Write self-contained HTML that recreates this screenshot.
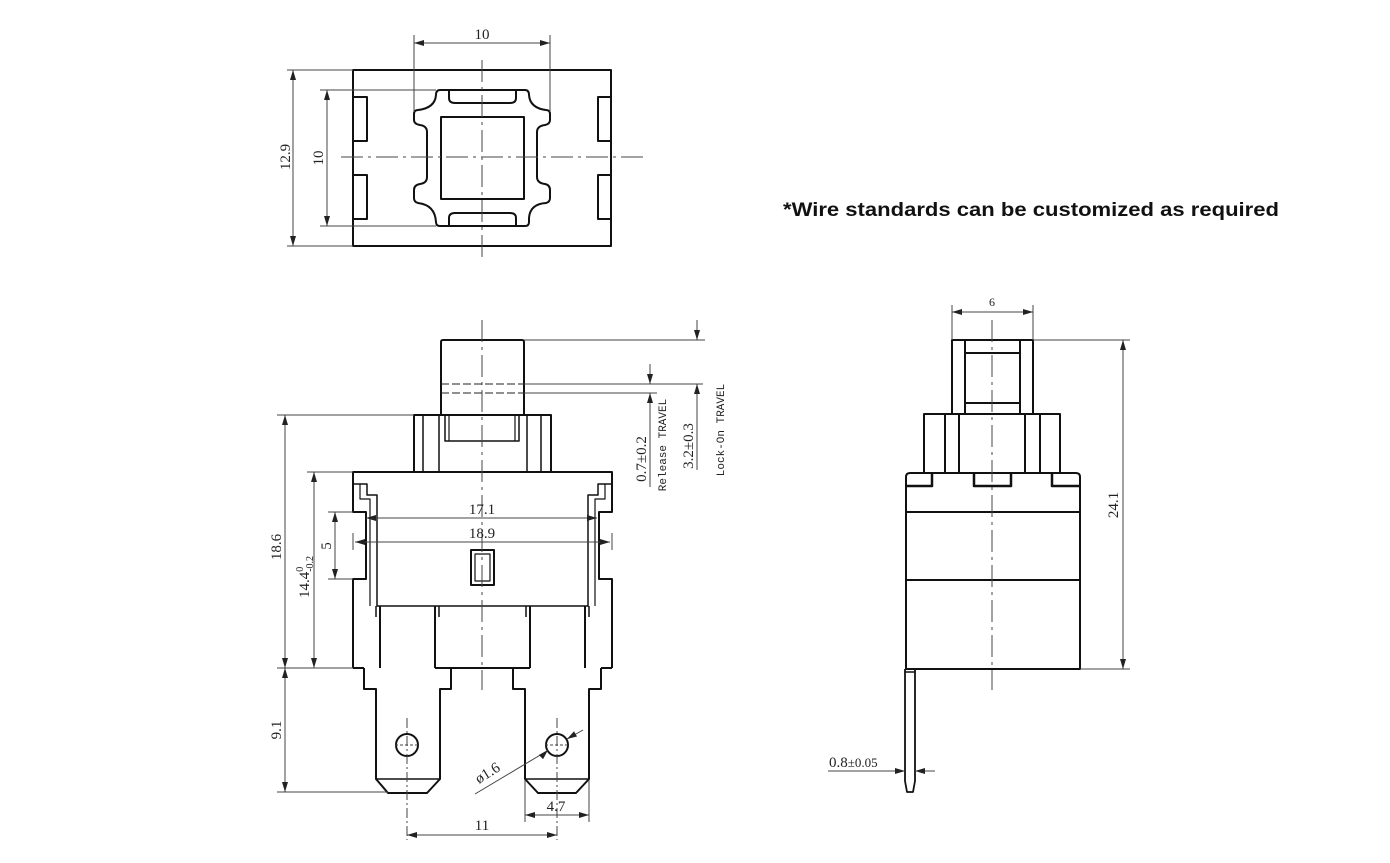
<!DOCTYPE html>
<html><head><meta charset="utf-8"><style>
html,body{margin:0;padding:0;background:#fff;}
svg{display:block}
text{font-family:"Liberation Serif",serif;fill:#222}
</style></head><body>
<svg width="1390" height="863" viewBox="0 0 1390 863" xmlns="http://www.w3.org/2000/svg">
<defs>
<marker id="a" viewBox="0 0 10 6" refX="10" refY="3" markerWidth="10" markerHeight="6" orient="auto-start-reverse" markerUnits="userSpaceOnUse"><path d="M0,0 L10,3 L0,6 z" fill="#222"/></marker>
</defs>
<g fill="none" stroke="#111" stroke-width="2" stroke-linejoin="round">
<rect x="353" y="70" width="258" height="176"/>
<rect x="353" y="97" width="14" height="44"/><rect x="353" y="175" width="14" height="44"/>
<rect x="598" y="97" width="13" height="44"/><rect x="598" y="175" width="13" height="44"/>
<path d="M440,90 L525,90 Q529,90 529,95 Q530,108 546,110 Q550,110 550,114 L550,120 Q550,124 545,125 Q537,126 537,132 L537,177 Q537,183 545,184 Q550,185 550,190 L550,198 Q550,202 546,203 Q530,204 529,218 L529,222 Q529,226 525,226 L440,226 Q436,226 436,222 Q435,205 418,203 Q414,202 414,198 L414,190 Q414,185 420,184 Q427,183 427,177 L427,132 Q427,126 420,125 Q414,124 414,120 L414,114 Q414,110 418,110 Q435,108 436,95 Q436,90 440,90 Z"/>
<path d="M449,90 L449,98 Q449,103 455,103 L510,103 Q516,103 516,98 L516,90"/>
<path d="M449,226 L449,218 Q449,213 455,213 L510,213 Q516,213 516,218 L516,226"/>
<rect x="441" y="117" width="83" height="82"/>
<path d="M443,340 L522,340 Q524,340 524,342 L524,415 L441,415 L441,342 Q441,340 443,340 Z"/>
<rect x="414" y="415" width="137" height="57"/>
<line x1="423" y1="415" x2="423" y2="472" stroke-width="1.5"/><line x1="439" y1="415" x2="439" y2="472" stroke-width="1.5"/>
<line x1="527" y1="415" x2="527" y2="472" stroke-width="1.5"/><line x1="541" y1="415" x2="541" y2="472" stroke-width="1.5"/>
<path d="M445,415 L445,441 L519,441 L519,415" stroke-width="1.5"/>
<line x1="449" y1="415" x2="449" y2="441" stroke-width="1.2"/><line x1="515" y1="415" x2="515" y2="441" stroke-width="1.2"/>
<path d="M353,668 L353,579 L366,579 L366,512 L353,512 L353,472 L612,472 L612,512 L599,512 L599,579 L612,579 L612,668"/>
<path d="M353,484 L367,484 L367,495 L377,495 L377,606 L588,606 L588,495 L598,495 L598,484 L612,484" stroke-width="1.5"/>
<path d="M360,484 L360,499 L370,499 L370,606" stroke-width="1.2"/>
<path d="M605,484 L605,499 L595,499 L595,606" stroke-width="1.2"/>
<line x1="380" y1="606" x2="380" y2="668"/><line x1="435" y1="606" x2="435" y2="668"/>
<line x1="530" y1="606" x2="530" y2="668"/><line x1="585" y1="606" x2="585" y2="668"/>
<line x1="376" y1="606" x2="376" y2="617" stroke-width="1.5"/><line x1="439" y1="606" x2="439" y2="617" stroke-width="1.5"/>
<line x1="526" y1="606" x2="526" y2="617" stroke-width="1.5"/><line x1="589" y1="606" x2="589" y2="617" stroke-width="1.5"/>
<line x1="353" y1="668" x2="364" y2="668"/><line x1="435" y1="668" x2="530" y2="668"/><line x1="601" y1="668" x2="612" y2="668"/>
<rect x="471" y="550" width="23" height="35"/><rect x="475" y="554" width="15" height="27" stroke-width="1.2"/>
<path d="M364,668 L364,689 L376,689 L376,779 L388,793 L427,793 L440,779 L440,689 L451,689 L451,668"/>
<path d="M513,668 L513,689 L525,689 L525,779 L538,793 L576,793 L589,779 L589,689 L601,689 L601,668"/>
<line x1="376" y1="779" x2="440" y2="779" stroke-width="1.5"/><line x1="525" y1="779" x2="589" y2="779" stroke-width="1.5"/>
<circle cx="407" cy="745" r="11"/><circle cx="557" cy="745" r="11"/>
<rect x="952" y="340" width="81" height="74"/>
<line x1="965" y1="340" x2="965" y2="414"/><line x1="1020" y1="340" x2="1020" y2="414"/>
<line x1="965" y1="353" x2="1020" y2="353"/><line x1="965" y1="403" x2="1020" y2="403"/>
<rect x="924" y="414" width="136" height="59"/>
<line x1="945" y1="414" x2="945" y2="473"/><line x1="959" y1="414" x2="959" y2="473"/>
<line x1="1025" y1="414" x2="1025" y2="473"/><line x1="1040" y1="414" x2="1040" y2="473"/>
<path d="M906,669 L906,477 Q906,473 910,473 L1076,473 Q1080,473 1080,477 L1080,669 Z"/>
<path d="M906,486 L932,486 L932,473 M974,473 L974,486 L1011,486 L1011,473 M1080,486 L1052,486 L1052,473" stroke-width="2.5"/>
<line x1="906" y1="512" x2="1080" y2="512"/><line x1="906" y1="580" x2="1080" y2="580"/>
<path d="M905,669 L905,781 L907,792 L913,792 L915,781 L915,669" stroke-width="1.8"/>
<line x1="905" y1="672" x2="915" y2="672" stroke-width="1.5"/>
</g>
<g stroke="#444" stroke-width="1" fill="none">
<line x1="482" y1="60" x2="482" y2="262" stroke-dasharray="22,5,3,5"/>
<line x1="341" y1="157" x2="643" y2="157" stroke-dasharray="22,5,3,5"/>
<line x1="482" y1="320" x2="482" y2="690" stroke-dasharray="22,5,3,5"/>
<line x1="992" y1="320" x2="992" y2="690" stroke-dasharray="22,5,3,5"/>
<line x1="395" y1="745" x2="419" y2="745" stroke-dasharray="3,2"/><line x1="407" y1="718" x2="407" y2="840" stroke-dasharray="10,3,2,3"/>
<line x1="545" y1="745" x2="569" y2="745" stroke-dasharray="3,2"/><line x1="557" y1="718" x2="557" y2="840" stroke-dasharray="10,3,2,3"/>
<line x1="441" y1="384" x2="703" y2="384" stroke-dasharray="8,3" stroke="#222"/><line x1="441" y1="393" x2="657" y2="393" stroke-dasharray="8,3" stroke="#222"/>
<line x1="524" y1="384" x2="703" y2="384"/><line x1="524" y1="393" x2="657" y2="393"/>
<line x1="414" y1="35" x2="414" y2="112"/><line x1="550" y1="35" x2="550" y2="112"/>
<line x1="414" y1="43" x2="550" y2="43" marker-start="url(#a)" marker-end="url(#a)"/>
<line x1="287" y1="70" x2="353" y2="70"/><line x1="287" y1="246" x2="353" y2="246"/>
<line x1="293" y1="70" x2="293" y2="246" marker-start="url(#a)" marker-end="url(#a)"/>
<line x1="320" y1="90" x2="436" y2="90"/><line x1="320" y1="226" x2="436" y2="226"/>
<line x1="327" y1="90" x2="327" y2="226" marker-start="url(#a)" marker-end="url(#a)"/>
<line x1="524" y1="340" x2="705" y2="340"/>
<line x1="697" y1="320" x2="697" y2="340" marker-end="url(#a)"/>
<line x1="697" y1="384" x2="697" y2="470" marker-start="url(#a)"/>
<line x1="650" y1="364" x2="650" y2="384" marker-end="url(#a)"/>
<line x1="650" y1="393" x2="650" y2="487" marker-start="url(#a)"/>
<line x1="277" y1="415" x2="414" y2="415"/><line x1="307" y1="472" x2="353" y2="472"/>
<line x1="285" y1="415" x2="285" y2="668" marker-start="url(#a)" marker-end="url(#a)"/>
<line x1="314" y1="472" x2="314" y2="668" marker-start="url(#a)" marker-end="url(#a)"/>
<line x1="277" y1="668" x2="353" y2="668"/>
<line x1="328" y1="512" x2="353" y2="512"/><line x1="328" y1="579" x2="353" y2="579"/>
<line x1="335" y1="512" x2="335" y2="579" marker-start="url(#a)" marker-end="url(#a)"/>
<line x1="366" y1="518" x2="597" y2="518" marker-start="url(#a)" marker-end="url(#a)"/>
<line x1="353" y1="533" x2="353" y2="550"/><line x1="612" y1="533" x2="612" y2="550"/>
<line x1="355" y1="542" x2="610" y2="542"/>
<line x1="355" y1="542" x2="370" y2="542" marker-start="url(#a)"/><line x1="595" y1="542" x2="610" y2="542" marker-end="url(#a)"/>
<line x1="277" y1="792" x2="388" y2="792"/>
<line x1="285" y1="668" x2="285" y2="792" marker-start="url(#a)" marker-end="url(#a)"/>
<line x1="407" y1="835" x2="557" y2="835" marker-start="url(#a)" marker-end="url(#a)"/>
<line x1="525" y1="780" x2="525" y2="822"/><line x1="589" y1="780" x2="589" y2="822"/>
<line x1="525" y1="815" x2="589" y2="815" marker-start="url(#a)" marker-end="url(#a)"/>
<line x1="475" y1="794" x2="547" y2="751"/>
<line x1="547" y1="751" x2="548" y2="750" marker-end="url(#a)"/>
<line x1="583" y1="730" x2="567" y2="739"/><line x1="572" y1="736" x2="567" y2="739" marker-end="url(#a)"/>
<line x1="952" y1="305" x2="952" y2="340"/><line x1="1033" y1="305" x2="1033" y2="340"/>
<line x1="952" y1="312" x2="1033" y2="312" marker-start="url(#a)" marker-end="url(#a)"/>
<line x1="1033" y1="340" x2="1130" y2="340"/><line x1="1080" y1="669" x2="1130" y2="669"/>
<line x1="1123" y1="340" x2="1123" y2="669" marker-start="url(#a)" marker-end="url(#a)"/>
<line x1="828" y1="771" x2="905" y2="771" marker-end="url(#a)"/>
<line x1="935" y1="771" x2="915" y2="771" marker-end="url(#a)"/>
</g>
<g font-size="15">
<text x="482" y="39" text-anchor="middle">10</text>
<text transform="translate(290,157) rotate(-90)" text-anchor="middle">12.9</text>
<text transform="translate(323,158) rotate(-90)" text-anchor="middle">10</text>
<text x="482" y="514" text-anchor="middle">17.1</text>
<text x="482" y="538" text-anchor="middle">18.9</text>
<text transform="translate(281,547) rotate(-90)" text-anchor="middle">18.6</text>
<text transform="translate(309,577) rotate(-90)" text-anchor="middle">14.4<tspan font-size="10" dy="-6">0</tspan><tspan font-size="10" dy="10" dx="-5">-0.2</tspan></text>
<text transform="translate(331,546) rotate(-90)" text-anchor="middle">5</text>
<text transform="translate(281,730) rotate(-90)" text-anchor="middle">9.1</text>
<text x="482" y="830" text-anchor="middle">11</text>
<text x="556" y="811" text-anchor="middle">4.7</text>
<text transform="translate(490,777) rotate(-32)" text-anchor="middle">ø1.6</text>
<text transform="translate(646,459) rotate(-90)" text-anchor="middle">0.7±0.2</text>
<text transform="translate(693,446) rotate(-90)" text-anchor="middle">3.2±0.3</text>
<text x="992" y="306" text-anchor="middle" font-size="12">6</text>
<text transform="translate(1118,505) rotate(-90)" text-anchor="middle">24.1</text>
<text x="829" y="767">0.8<tspan font-size="13">±0.05</tspan></text>
</g>
<g font-size="11">
<text transform="translate(666,445) rotate(-90)" text-anchor="middle" style="font-family:'Liberation Mono',monospace">Release TRAVEL</text>
<text transform="translate(724,430) rotate(-90)" text-anchor="middle" style="font-family:'Liberation Mono',monospace">Lock-On TRAVEL</text>
</g>
<text x="783" y="216" font-size="19" font-weight="bold" textLength="496" lengthAdjust="spacingAndGlyphs" style="font-family:'Liberation Sans',sans-serif;fill:#111">*Wire standards can be customized as required</text>
</svg>
</body></html>
